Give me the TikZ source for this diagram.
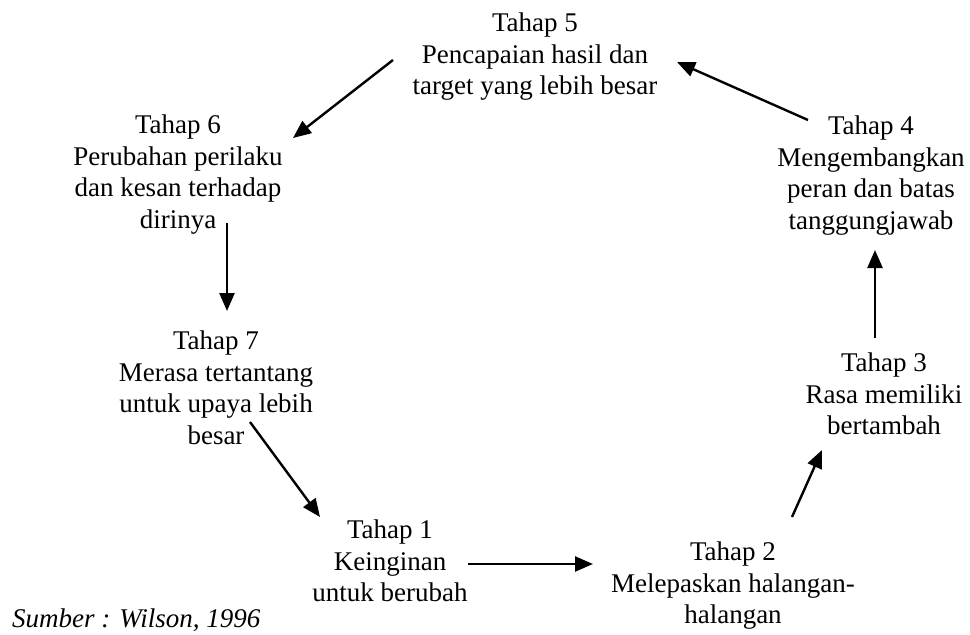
\documentclass[tikz,border=0pt]{standalone}
\usepackage{fontspec}
\setmainfont{Liberation Serif}
\usetikzlibrary{arrows.meta}
\tikzset{
  stage/.style={anchor=north, align=center, inner sep=0pt, font=\fontsize{27}{31.5}\selectfont},
  flow/.style={line width=2.4pt, -{Triangle[length=18pt,width=15pt]}},
}
\begin{document}
\begin{tikzpicture}[x=1pt,y=-1pt]
\useasboundingbox (0,0) rectangle (970,635);
\node[stage] (t5) at (535,12.7) {Tahap 5\\Pencapaian hasil dan\\target yang lebih besar};
\node[stage] (t6) at (178,114.7) {Tahap 6\\Perubahan perilaku\\dan kesan terhadap\\dirinya};
\node[stage] (t4) at (871,115.7) {Tahap 4\\Mengembangkan\\peran dan batas\\tanggungjawab};
\node[stage] (t7) at (216,330.7) {Tahap 7\\Merasa tertantang\\untuk upaya lebih\\besar};
\node[stage] (t3) at (884,352.7) {Tahap 3\\Rasa memiliki\\bertambah};
\node[stage] (t1) at (390,519.7) {Tahap 1\\Keinginan\\untuk berubah};
\node[stage] (t2) at (733,541.7) {Tahap 2\\Melepaskan halangan-\\halangan};
\node[anchor=base west, inner sep=0pt, font=\fontsize{27}{31.5}\selectfont\itshape] (src) at (12,627) {Sumber : Wilson, 1996};
% connector end points
\coordinate (a1s) at (393,60);  \coordinate (a1e) at (293,138);
\coordinate (a2s) at (227,223); \coordinate (a2e) at (227,311);
\coordinate (a3s) at (250,422); \coordinate (a3e) at (320,517);
\coordinate (a4s) at (468,564); \coordinate (a4e) at (593,564);
\coordinate (a5s) at (792,517); \coordinate (a5e) at (822,450);
\coordinate (a6s) at (875,338); \coordinate (a6e) at (875,250);
\coordinate (a7s) at (808,120); \coordinate (a7e) at (677,62);
\draw[flow] (a1s) -- (a1e);
\draw[flow] (a2s) -- (a2e);
\draw[flow] (a3s) -- (a3e);
\draw[flow] (a4s) -- (a4e);
\draw[flow] (a5s) -- (a5e);
\draw[flow] (a6s) -- (a6e);
\draw[flow] (a7s) -- (a7e);
\end{tikzpicture}
\end{document}
